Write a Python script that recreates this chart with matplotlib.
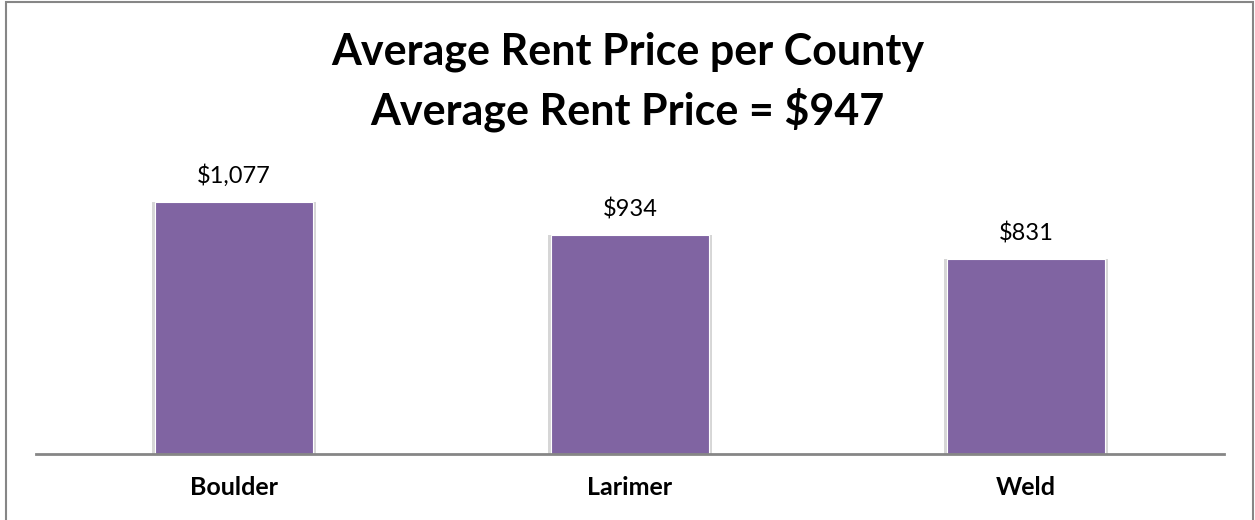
import matplotlib
matplotlib.use('Agg')
from matplotlib import pyplot as plt
from matplotlib.patches import Rectangle

counties = ['Boulder', 'Larimer', 'Weld']
rent = [1077, 934, 831]
rent_labels = ['$1,077', '$934', '$831']
title_lines = ['Average Rent Price per County', 'Average Rent Price = $947']

plt.rcParams['font.family'] = ['Lato', 'DejaVu Sans']

fig = plt.figure(figsize=(12.55, 5.2), dpi=100)
ax = fig.add_axes([36/1255, 1 - 454/520, 1188/1255, 281/520])

x = range(len(counties))
# soft shadow behind the bars
ax.bar(x, rent, width=0.415, color='#d6d6d6', zorder=1)
bars = ax.bar(x, rent, width=0.4, color='#8064A2', edgecolor='white', linewidth=0.8, zorder=2)

for b, lab in zip(bars, rent_labels):
    ax.annotate(lab, (b.get_x() + b.get_width()/2, b.get_height()),
                xytext=(0, 13.5), textcoords='offset points',
                ha='center', va='baseline', fontsize=17, color='black')

ax.set_xlim(-0.5, 2.5)
ax.set_ylim(0, 1200)
ax.set_xticks(list(x))
ax.set_xticklabels(counties, fontsize=18, fontweight='bold')
ax.tick_params(axis='x', length=0, pad=16)
ax.set_yticks([])
for s in ['top', 'right', 'left']:
    ax.spines[s].set_visible(False)
ax.spines['bottom'].set_color('#868686')
ax.spines['bottom'].set_linewidth(2)

fig.text(0.5, 1 - 65/520, title_lines[0], ha='center', va='baseline',
         fontsize=31, fontweight='bold')
fig.text(0.5, 1 - 124/520, title_lines[1], ha='center', va='baseline',
         fontsize=31, fontweight='bold')

fig.patches.append(Rectangle((6/1255, -0.02), 1247/1255, 1.02 - 2/520,
                             transform=fig.transFigure, fill=False,
                             edgecolor='#868686', linewidth=1.5))

fig.savefig('out.png', dpi=100)
